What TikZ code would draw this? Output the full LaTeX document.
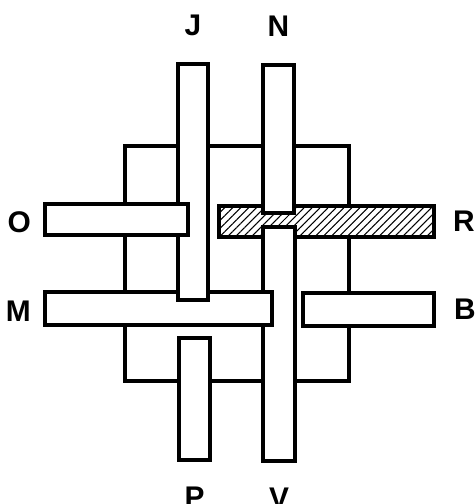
\documentclass[tikz,border=0pt]{standalone}
\usepackage{fontspec}
\setmainfont{Liberation Sans}
\usetikzlibrary{positioning,patterns.meta}

\begin{document}
\begin{tikzpicture}[x=0.02cm,y=-0.02cm,line width=1.8pt,
  bar/.style={draw,fill=white,inner sep=0pt},
  hatched/.style={draw,inner sep=0pt,preaction={fill=white},
    pattern={Lines[angle=45,distance=3.2pt,line width=0.6pt]}},
  lbl/.style={inner sep=0pt,font=\bfseries\fontsize{17}{20}\selectfont}]
\useasboundingbox (0,0) rectangle (475,504);
% plate in the middle, bars laid over it (order = stacking)
\node[bar,minimum width=4.48cm,minimum height=4.70cm] (plate) at (237,263.5) {};
\node[hatched,minimum width=4.30cm,minimum height=0.62cm] (R) at (326.5,221.5) {};
\node[bar,minimum width=0.64cm,minimum height=4.68cm] (V) at (279,344) {};
\node[bar,minimum width=0.62cm,minimum height=2.96cm] (N) at (278.5,139) {};
\node[bar,minimum width=4.54cm,minimum height=0.66cm] (M) at (158.5,308.5) {};
\node[bar,minimum width=0.60cm,minimum height=4.72cm] (J) at (193,182) {};
\node[bar,minimum width=2.86cm,minimum height=0.62cm] (O) at (116.5,219.5) {};
\node[bar,minimum width=2.62cm,minimum height=0.66cm] (B) at (368.5,309.5) {};
\node[bar,minimum width=0.62cm,minimum height=2.44cm] (P) at (194.5,399) {};
% letters
\node[lbl,above=0.5cm of J] (lJ) {J};
\node[lbl,above=0.5cm of N] (lN) {N};
\node[lbl,left=0.22cm of O,yshift=-0.05cm] (lO) {O};
\node[lbl,left=0.22cm of M,yshift=-0.05cm] (lM) {M};
\node[lbl,right=0.34cm of R] (lR) {R};
\node[lbl,right=0.34cm of B] (lB) {B};
\node[lbl,below=0.48cm of P] (lP) {P};
\node[lbl,below=0.48cm of V] (lV) {V};
\end{tikzpicture}
\end{document}
